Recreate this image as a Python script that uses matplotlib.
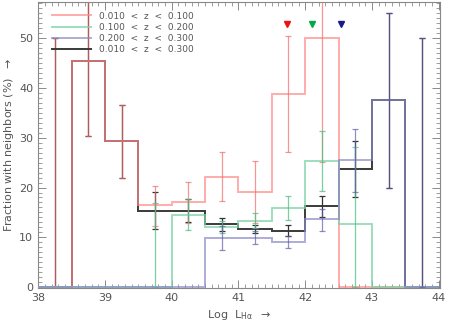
import matplotlib
matplotlib.use("Agg")
import matplotlib.pyplot as plt
import numpy as np

# bin edges in log L_Halpha, 0.5 dex wide
edges = np.arange(38.0, 44.01, 0.5)
centers = 0.5 * (edges[:-1] + edges[1:])
nan = np.nan

labels = ["0.010  <  z  <  0.100", "0.100  <  z  <  0.200",
          "0.200  <  z  <  0.300", "0.010  <  z  <  0.300"]

# fraction with neighbours (%), per bin
frac_red = [0, 45.5, 29.3, 16.4, 17.0, 22.2, 19.1, 38.8, 50.0, 0, 0, 0]
lo_red = [0, 30.4, 22.0, 12.2, 12.9, 17.2, 12.8, 27.2, 25.2, nan, nan, nan]
hi_red = [50.0, 61.0, 36.5, 20.3, 21.1, 27.1, 25.4, 50.4, 75.0, nan, nan, nan]

frac_green = [0, 0, 0, 0, 14.5, 12.0, 13.3, 15.8, 25.3, 12.6, 0, 0]
lo_green = [nan, nan, nan, 0, 11.5, 10.8, 11.8, 13.4, 19.3, 0, nan, nan]
hi_green = [nan, nan, nan, 16.9, 17.6, 13.3, 14.8, 18.3, 31.4, 28.2, nan, nan]

frac_blue = [0, 0, 0, 0, 0, 9.8, 9.8, 9.0, 13.6, 25.5, 37.5, 0]
lo_blue = [nan, nan, nan, nan, nan, 7.4, 8.6, 7.8, 11.3, 19.2, 19.9, 0]
hi_blue = [nan, nan, nan, nan, nan, 12.3, 11.2, 10.2, 15.7, 31.8, 55.1, 50.0]

frac_all = [0, 45.5, 29.3, 15.3, 15.3, 12.6, 11.6, 11.3, 16.2, 23.8, 37.5, 0]
lo_all = [0, 30.4, 22.0, 11.6, 13.0, 11.3, 10.8, 10.2, 14.0, 18.0, 19.9, 0]
hi_all = [50.0, 61.0, 36.5, 19.1, 17.7, 13.8, 12.4, 12.4, 18.3, 29.4, 55.1, 50.0]

# median luminosity markers for the three z slices
marker_x = [41.73, 42.1, 42.53]
marker_y = [52.8, 52.8, 52.8]
marker_colors = ["#ee1111", "#00aa44", "#1a1a8c"]

series = [
    (frac_red, lo_red, hi_red, "#ff8a8a", "#f06a6a", 0.7),
    (frac_green, lo_green, hi_green, "#7fd3a5", "#4fbf86", 0.75),
    (frac_blue, lo_blue, hi_blue, "#8a8ac6", "#5e5ea8", 0.7),
    (frac_all, lo_all, hi_all, "#3a3a3a", "#333333", 1.0),
]

plt.rcParams["font.family"] = "DejaVu Sans"
fig = plt.figure(figsize=(4.49, 3.24), dpi=100)
ax = fig.add_axes([0.085, 0.111, 0.895, 0.883])

# black (all z) first so the coloured slices tint it where they overlap
for i, ((vals, lo, hi, c_line, c_err, a), lab) in enumerate(zip(series, labels)):
    vals = np.array(vals, dtype=float)
    lo = np.array(lo, dtype=float)
    hi = np.array(hi, dtype=float)
    z = 2 if i == 3 else 3
    ax.stairs(vals, edges, color=c_line, lw=1.4, alpha=a, label=lab, zorder=z)
    ok = ~np.isnan(lo)
    ax.errorbar(centers[ok], vals[ok], yerr=[vals[ok] - lo[ok], hi[ok] - vals[ok]],
                fmt="none", ecolor=c_err, elinewidth=0.9, capsize=2.2,
                capthick=0.9, alpha=a, zorder=z)

for mx, my, mc in zip(marker_x, marker_y, marker_colors):
    ax.plot(mx, my, marker="v", color=mc, ms=5, ls="none", zorder=4)

ax.set_xlim(38, 44.02)
ax.set_ylim(-0.2, 57.3)
ax.set_xticks(np.arange(38, 45, 1))
ax.set_xticks(np.arange(38, 44.01, 0.1), minor=True)
ax.set_yticks(np.arange(0, 51, 10))
ax.set_yticks(np.arange(0, 57.3, 1), minor=True)
ax.tick_params(which="both", direction="in", top=True, right=True,
               colors="#777777", labelcolor="#555555", labelsize=8)
ax.tick_params(which="major", length=6, width=0.6)
ax.tick_params(which="minor", length=3, width=0.5)
for sp in ax.spines.values():
    sp.set_color("#888888")
    sp.set_linewidth(0.8)

ax.set_xlabel(r"Log  L$_{\mathrm{H\alpha}}$  $\rightarrow$", color="#555555", fontsize=8,
              labelpad=4)
ax.set_ylabel(r"Fraction with neighbors (%)  $\rightarrow$", color="#555555", fontsize=8,
              labelpad=2)

leg = ax.legend(loc="upper left", bbox_to_anchor=(0.02, 0.985), frameon=False,
                fontsize=6.5, handlelength=4.4, handletextpad=0.9, labelspacing=0.25,
                borderaxespad=0.2)
for t in leg.get_texts():
    t.set_color("#555555")

fig.savefig("out.png", dpi=100)
